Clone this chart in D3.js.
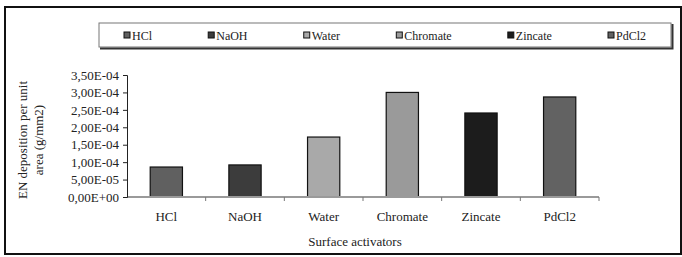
<!DOCTYPE html>
<html>
<head>
<meta charset="utf-8">
<script src="https://cdn.jsdelivr.net/npm/d3@7"></script>
<style>
  body { margin: 0; background: #fff; }
  text { font-family: "Liberation Serif", "DejaVu Serif", serif; fill: #222; }
</style>
</head>
<body>
<div id="d3container"></div>
<script>
// data
const categories = ["HCl", "NaOH", "Water", "Chromate", "Zincate", "PdCl2"];
const values = [8.6e-5, 9.2e-5, 1.72e-4, 3.0e-4, 2.41e-4, 2.87e-4];
const yTicks = [0, 5e-5, 1e-4, 1.5e-4, 2e-4, 2.5e-4, 3e-4, 3.5e-4];
const colors = ["#606060", "#3c3c3c", "#a9a9a9", "#9a9a9a", "#1c1c1c", "#626262"];

const W = 682, H = 257;
const margin = { top: 75, right: 83, bottom: 60, left: 127 };
const width = W - margin.left - margin.right;   // 472
const height = H - margin.top - margin.bottom;  // 122

const svg = d3.select("#d3container")
    .append("svg")
    .attr("width", W)
    .attr("height", H);

// outer frame
svg.append("rect")
    .attr("x", 5).attr("y", 7)
    .attr("width", 676).attr("height", 247)
    .attr("fill", "none")
    .attr("stroke", "#111")
    .attr("stroke-width", 2);

const g = svg.append("g")
    .attr("transform", `translate(${margin.left},${margin.top})`);

const x = d3.scaleBand()
    .domain(categories)
    .range([0, width])
    .paddingInner(0.59)
    .paddingOuter(0.295);

const xEdges = d3.scaleBand().domain(categories).range([0, width]).padding(0);

const y = d3.scaleLinear().domain([0, 3.5e-4]).range([height, 0]);

const fmt = v => {
    const s = v.toExponential(2).replace(".", ",").toUpperCase();
    const m = s.match(/^(.*)E([+-])(\d+)$/);
    return m[1] + "E" + m[2] + m[3].padStart(2, "0");
};

// bars
g.selectAll(".bar")
    .data(values)
    .enter().append("rect")
    .attr("class", "bar")
    .attr("x", (d, i) => x(categories[i]))
    .attr("y", d => y(d))
    .attr("width", x.bandwidth())
    .attr("height", d => height - y(d))
    .attr("fill", (d, i) => colors[i])
    .attr("stroke", "#111")
    .attr("stroke-width", 1.2);

// x axis (gray line, ticks between categories)
const xAxis = g.append("g")
    .attr("transform", `translate(0,${height})`);
xAxis.append("line")
    .attr("x1", 0).attr("x2", width)
    .attr("y1", 0).attr("y2", 0)
    .attr("stroke", "#9a9a9a")
    .attr("stroke-width", 2);
xAxis.selectAll(".xtick")
    .data(categories.slice(1).concat(["__end"]))
    .enter().append("line")
    .attr("x1", d => d === "__end" ? width : xEdges(d))
    .attr("x2", d => d === "__end" ? width : xEdges(d))
    .attr("y1", 0).attr("y2", 4)
    .attr("stroke", "#777");
xAxis.selectAll(".xlabel")
    .data(categories)
    .enter().append("text")
    .attr("x", d => x(d) + x.bandwidth() / 2)
    .attr("y", 24)
    .attr("text-anchor", "middle")
    .style("font-size", "13px")
    .text(d => d);

// y axis
g.append("g")
    .call(d3.axisLeft(y).tickValues(yTicks).tickFormat(fmt).tickSize(4).tickPadding(4))
    .call(a => a.select(".domain").attr("stroke", "#222"))
    .call(a => a.selectAll(".tick line").attr("stroke", "#222"))
    .call(a => a.selectAll("text")
        .style("font-family", "'Liberation Serif', serif")
        .style("font-size", "13px")
        .attr("fill", "#222"));

// axis titles
svg.append("text")
    .attr("x", (margin.left + margin.left + width) / 2 - 8)
    .attr("y", 246)
    .attr("text-anchor", "middle")
    .style("font-size", "13px")
    .text("Surface activators");

const yTitle = svg.append("text")
    .attr("transform", `translate(27,${margin.top + height / 2 + 4}) rotate(-90)`)
    .attr("text-anchor", "middle")
    .style("font-size", "13px");
yTitle.append("tspan").attr("x", 0).attr("dy", 0).text("EN deposition per unit");
yTitle.append("tspan").attr("x", 0).attr("dy", 16).text("area (g/mm2)");

// legend
const lg = svg.append("g");
lg.append("rect")
    .attr("x", 99).attr("y", 23)
    .attr("width", 572).attr("height", 24)
    .attr("fill", "#fff")
    .attr("stroke", "#777")
    .attr("stroke-width", 1);
lg.append("path")
    .attr("d", "M100,48.5 H672.5 V24")
    .attr("fill", "none")
    .attr("stroke", "#333")
    .attr("stroke-width", 2);

const items = lg.selectAll(".item")
    .data(categories)
    .enter().append("g")
    .attr("class", "item");
items.append("rect")
    .attr("width", 6).attr("height", 6)
    .attr("y", 32)
    .attr("fill", (d, i) => colors[i])
    .attr("stroke", "#111")
    .attr("stroke-width", 1);
items.append("text")
    .attr("x", 8)
    .attr("y", 39.5)
    .style("font-size", "12px")
    .text(d => d);

// lay out legend items with equal gaps between first and last
const startX = 124, endX = 608;
const widths = [];
items.each(function () {
    widths.push(8 + d3.select(this).select("text").node().getComputedTextLength());
});
const gap = (endX - startX - d3.sum(widths.slice(0, -1))) / (widths.length - 1);
let cx = startX;
items.attr("transform", (d, i) => {
    const t = `translate(${cx},0)`;
    cx += widths[i] + gap;
    return t;
});
</script>
</body>
</html>
